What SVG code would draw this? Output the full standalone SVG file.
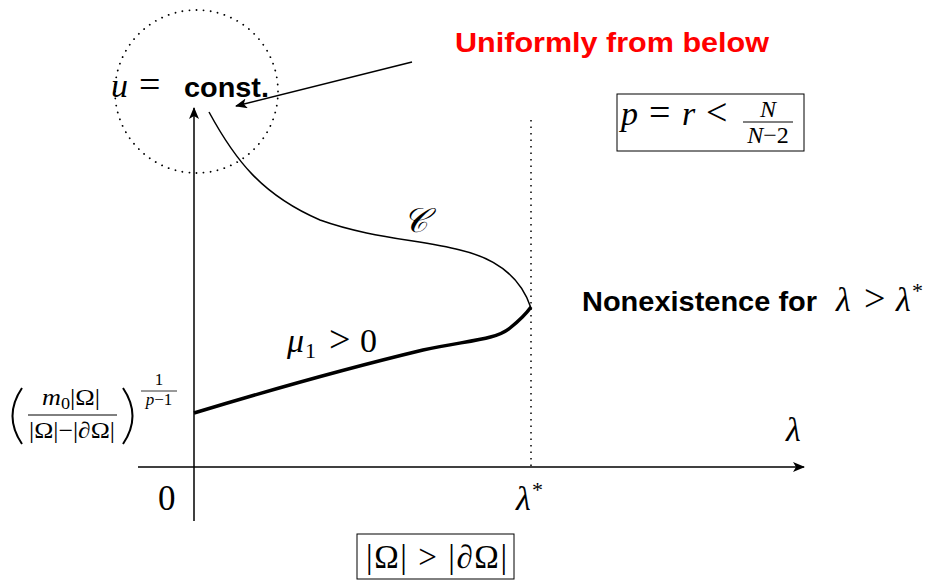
<svg xmlns="http://www.w3.org/2000/svg" width="926" height="582" viewBox="0 0 926 582">
<style>
.m{font-family:'Liberation Serif',serif;fill:#000}
.i{font-style:italic}
.b{font-family:'Liberation Sans',Arial,sans-serif;font-weight:bold;font-size:28px}
.ln{fill:none;stroke:#000;stroke-width:1.5}
.box{fill:none;stroke:#000;stroke-width:1}
</style>
<defs>
<marker id="ah" markerWidth="12" markerHeight="10" refX="11" refY="5" orient="auto" markerUnits="userSpaceOnUse">
<path d="M0,0 L12,5 L0,10 L3,5 Z" fill="#000"/>
</marker>
</defs>
<g id="connectors">
<line class="ln" x1="194" y1="521" x2="194" y2="108" marker-end="url(#ah)"/>
<line class="ln" x1="138" y1="467" x2="804" y2="467" marker-end="url(#ah)"/>
<line x1="531" y1="120" x2="531" y2="467" stroke="#000" stroke-width="1.5" stroke-dasharray="1.5,5"/>
<line class="ln" x1="412" y1="62" x2="236" y2="106" marker-end="url(#ah)"/>
<path class="ln" d="M209,112 C235,160 262,195 320,220 C370,238 420,240 460,250 C495,258 520,275 531,308"/>
<path fill="none" stroke="#000" stroke-width="3.5" d="M194,413 C270,390 340,370 423,350 C470,340 495,340 510,328 C520,320 526,314 531,307"/>
<circle cx="196.5" cy="91.5" r="81.5" fill="none" stroke="#000" stroke-width="1.8" stroke-dasharray="0.1,7" stroke-linecap="round"/>
</g>
<g id="title">
<text x="455" y="52" class="b" fill="#ff0000" textLength="314" lengthAdjust="spacingAndGlyphs">Uniformly from below</text>
</g>
<g id="const">
<text x="111" y="97" class="m i" font-size="34">u</text>
<text x="139" y="97" class="m" font-size="38">=</text>
<text x="184" y="97" class="b" fill="#000" font-size="29" textLength="85" lengthAdjust="spacingAndGlyphs">const.</text>
</g>
<g id="cond1">
<rect class="box" x="617" y="94" width="187" height="57"/>
<text x="621" y="125" class="m i" font-size="34">p</text>
<text x="649" y="125" class="m" font-size="38">=</text>
<text x="682" y="125" class="m i" font-size="34">r</text>
<text x="706" y="125" class="m" font-size="38">&lt;</text>
<text x="768" y="117" class="m i" font-size="24" text-anchor="middle">N</text>
<line x1="743" y1="122" x2="793" y2="122" stroke="#000" stroke-width="1"/>
<text x="768" y="143" class="m" font-size="24" text-anchor="middle"><tspan font-style="italic">N</tspan>−2</text>
</g>
<g id="C-label">
<text x="403" y="232" font-family="DejaVu Serif, serif" font-style="italic" font-size="34">𝒞</text>
</g>
<g id="mu-label">
<text x="287" y="352" class="m i" font-size="34">μ</text>
<text x="305" y="358" class="m" font-size="22">1</text>
<text x="329" y="352" class="m" font-size="38">&gt;</text>
<text x="360" y="352" class="m" font-size="34">0</text>
</g>
<g id="nonexistence">
<text x="582" y="311" class="b" textLength="235" lengthAdjust="spacingAndGlyphs">Nonexistence for</text>
<text x="836" y="311" class="m i" font-size="34">λ</text>
<text x="864" y="311" class="m" font-size="38">&gt;</text>
<text x="896" y="311" class="m i" font-size="34">λ</text>
<text x="912" y="298" class="m" font-size="22">*</text>
</g>
<g id="lambda-label">
<text x="786" y="441" class="m i" font-size="34">λ</text>
</g>
<g id="zero">
<text x="158" y="510" class="m" font-size="35">0</text>
</g>
<g id="lambda-star">
<text x="516" y="510" class="m i" font-size="34">λ</text>
<text x="532" y="497" class="m" font-size="22">*</text>
</g>
<g id="intercept">
<path d="M22,388 Q3,416 22,444" fill="none" stroke="#000" stroke-width="2"/>
<text x="42" y="405" class="m" font-size="23" textLength="58" lengthAdjust="spacingAndGlyphs"><tspan font-style="italic">m</tspan><tspan font-size="16" dy="4">0</tspan><tspan dy="-4">|Ω|</tspan></text>
<line x1="28" y1="415" x2="117" y2="415" stroke="#000" stroke-width="1"/>
<text x="29" y="438" class="m" font-size="23" textLength="86" lengthAdjust="spacingAndGlyphs">|Ω|−|∂Ω|</text>
<path d="M123,388 Q142,416 123,444" fill="none" stroke="#000" stroke-width="2"/>
<text x="159" y="385" class="m" font-size="17" text-anchor="middle">1</text>
<line x1="141" y1="391" x2="177" y2="391" stroke="#000" stroke-width="0.8"/>
<text x="159" y="405" class="m" font-size="17" text-anchor="middle"><tspan font-style="italic">p</tspan>−1</text>
</g>
<g id="cond2">
<rect class="box" x="357" y="534" width="157" height="45"/>
<text x="366" y="568" class="m" font-size="33" textLength="141" lengthAdjust="spacing">|Ω| &gt; |∂Ω|</text>
</g>
</svg>
